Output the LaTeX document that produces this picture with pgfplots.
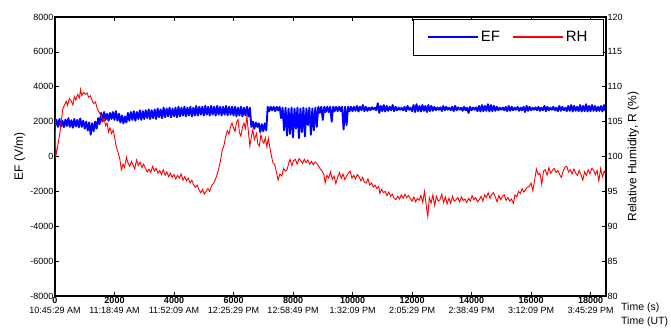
\documentclass[border=0pt]{standalone}
\usepackage{fontspec}
\setmainfont{Liberation Sans}
\usepackage{pgfplots}
\usepackage{pgfplotstable}
\pgfplotsset{compat=1.18}
\pgfplotstableread[row sep=\\]{
t ef\\
0 1750\\ 50 2100\\ 100 1700\\ 150 2150\\ 200 1720\\ 250 2050\\ 300 1680\\ 350 2120\\ 400 1750\\ 450 2200\\
500 1700\\ 550 2080\\ 600 1650\\ 650 2150\\ 700 1720\\ 750 2100\\ 800 1680\\ 850 2180\\ 900 1700\\ 950 2050\\
1000 1600\\ 1050 2000\\ 1100 1500\\ 1150 1950\\ 1200 1250\\ 1250 1900\\ 1300 1450\\ 1350 2000\\ 1400 1600\\ 1450 2200\\
1500 1850\\ 1550 2500\\ 1600 2000\\ 1650 2550\\ 1700 2100\\ 1750 2450\\ 1800 2050\\ 1850 2500\\ 1900 2150\\ 1950 2550\\
2000 2100\\ 2050 2600\\ 2100 2050\\ 2150 2450\\ 2200 1950\\ 2250 2350\\ 2300 1900\\ 2350 2300\\ 2400 1950\\ 2450 2500\\
2500 2050\\ 2550 2550\\ 2600 2100\\ 2650 2600\\ 2700 2050\\ 2750 2550\\ 2800 2150\\ 2850 2650\\ 2900 2100\\ 2950 2600\\
3000 2150\\ 3050 2650\\ 3100 2200\\ 3150 2700\\ 3200 2150\\ 3250 2650\\ 3300 2200\\ 3350 2700\\ 3400 2150\\ 3450 2750\\
3500 2250\\ 3550 2700\\ 3600 2200\\ 3650 2800\\ 3700 2250\\ 3750 2750\\ 3800 2300\\ 3850 2800\\ 3900 2250\\ 3950 2750\\
4000 2300\\ 4050 2800\\ 4100 2250\\ 4150 2850\\ 4200 2300\\ 4250 2800\\ 4300 2350\\ 4350 2850\\ 4400 2300\\ 4450 2800\\
4500 2350\\ 4550 2850\\ 4600 2300\\ 4650 2800\\ 4700 2350\\ 4750 2900\\ 4800 2350\\ 4850 2850\\ 4900 2400\\ 4950 2850\\
5000 2350\\ 5050 2900\\ 5100 2400\\ 5150 2850\\ 5200 2350\\ 5250 2900\\ 5300 2400\\ 5350 2850\\ 5400 2350\\ 5450 2900\\
5500 2400\\ 5550 2850\\ 5600 2350\\ 5650 2850\\ 5700 2400\\ 5750 2900\\ 5800 2350\\ 5850 2850\\ 5900 2400\\ 5950 2850\\
6000 2350\\ 6050 2850\\ 6100 2300\\ 6150 2800\\ 6200 2350\\ 6250 2850\\ 6300 2300\\ 6350 2800\\ 6400 2350\\ 6450 2850\\
6500 2300\\ 6550 2800\\ 6600 1700\\ 6650 2000\\ 6700 1600\\ 6750 1950\\ 6800 1700\\ 6850 1900\\ 6900 1400\\ 6950 1850\\
7000 1450\\ 7050 1900\\ 7100 1500\\ 7150 2850\\ 7200 2600\\ 7250 2850\\ 7300 2650\\ 7350 2850\\ 7400 2600\\ 7450 2850\\
7500 2650\\ 7550 2850\\ 7600 2200\\ 7650 2800\\ 7700 1500\\ 7750 2800\\ 7800 1200\\ 7850 2750\\ 7900 1300\\ 7950 2800\\
8000 1100\\ 8050 2750\\ 8100 1600\\ 8150 2800\\ 8200 1050\\ 8250 2750\\ 8300 1400\\ 8350 2800\\ 8400 1150\\ 8450 2750\\
8500 1800\\ 8550 2800\\ 8600 1250\\ 8650 2750\\ 8700 1500\\ 8750 2800\\ 8800 1700\\ 8850 2850\\ 8900 2500\\ 8950 2850\\
9000 2100\\ 9050 2850\\ 9100 2550\\ 9150 2850\\ 9200 2550\\ 9250 2850\\ 9300 2000\\ 9350 2850\\ 9400 2600\\ 9450 2850\\
9500 2600\\ 9550 2850\\ 9600 2600\\ 9650 2850\\ 9700 1550\\ 9750 2850\\ 9800 1800\\ 9850 2850\\ 9900 2600\\ 9950 2850\\
10000 2600\\ 10050 2850\\ 10100 2620\\ 10150 2900\\ 10200 2580\\ 10250 2850\\ 10300 2650\\ 10350 2950\\ 10400 2600\\ 10450 2850\\
10500 2620\\ 10550 2800\\ 10600 2650\\ 10650 2820\\ 10700 2700\\ 10750 2800\\ 10800 2650\\ 10850 3050\\ 10900 2500\\ 10950 2900\\
11000 2600\\ 11050 2950\\ 11100 2580\\ 11150 2900\\ 11200 2620\\ 11250 2850\\ 11300 2650\\ 11350 2950\\ 11400 2600\\ 11450 2850\\
11500 2650\\ 11550 2800\\ 11600 2680\\ 11650 2800\\ 11700 2650\\ 11750 2850\\ 11800 2600\\ 11850 2900\\ 11900 2680\\ 11950 2800\\
12000 2600\\ 12050 2950\\ 12100 2550\\ 12150 3000\\ 12200 2600\\ 12250 2900\\ 12300 2580\\ 12350 2950\\ 12400 2620\\ 12450 2900\\
12500 2550\\ 12550 2950\\ 12600 2600\\ 12650 2900\\ 12700 2620\\ 12750 2850\\ 12800 2650\\ 12850 2800\\ 12900 2680\\ 12950 2820\\
13000 2600\\ 13050 2900\\ 13100 2650\\ 13150 2850\\ 13200 2680\\ 13250 2800\\ 13300 2650\\ 13350 2850\\ 13400 2600\\ 13450 2900\\
13500 2650\\ 13550 2820\\ 13600 2680\\ 13650 2800\\ 13700 2620\\ 13750 2850\\ 13800 2650\\ 13850 2800\\ 13900 2500\\ 13950 2850\\
14000 2650\\ 14050 2800\\ 14100 2680\\ 14150 2820\\ 14200 2600\\ 14250 2900\\ 14300 2580\\ 14350 2950\\ 14400 2600\\ 14450 2900\\
14500 2620\\ 14550 3000\\ 14600 2580\\ 14650 2950\\ 14700 2600\\ 14750 2900\\ 14800 2620\\ 14850 2850\\ 14900 2650\\ 14950 2800\\
15000 2680\\ 15050 2800\\ 15100 2650\\ 15150 2850\\ 15200 2600\\ 15250 2900\\ 15300 2620\\ 15350 2850\\ 15400 2650\\ 15450 2800\\
15500 2680\\ 15550 2850\\ 15600 2620\\ 15650 2800\\ 15700 2650\\ 15750 2850\\ 15800 2550\\ 15850 2900\\ 15900 2620\\ 15950 2850\\
16000 2650\\ 16050 2800\\ 16100 2680\\ 16150 2820\\ 16200 2650\\ 16250 2850\\ 16300 2620\\ 16350 2800\\ 16400 2650\\ 16450 2900\\
16500 2600\\ 16550 2850\\ 16600 2650\\ 16650 2800\\ 16700 2680\\ 16750 2850\\ 16800 2650\\ 16850 2800\\ 16900 2600\\ 16950 2900\\
17000 2620\\ 17050 2850\\ 17100 2650\\ 17150 2800\\ 17200 2600\\ 17250 2900\\ 17300 2620\\ 17350 2950\\ 17400 2580\\ 17450 2900\\
17500 2620\\ 17550 2850\\ 17600 2600\\ 17650 2950\\ 17700 2580\\ 17750 2900\\ 17800 2600\\ 17850 3000\\ 17900 2580\\ 17950 2900\\
18000 2600\\ 18050 2950\\ 18100 2620\\ 18150 2900\\ 18200 2600\\ 18250 2850\\ 18300 2620\\ 18350 2900\\ 18400 2580\\ 18450 2950\\
18500 2620\\
}\eftable
\pgfplotstableread[row sep=\\]{
t rh\\
0 105.6\\ 30 100.1\\ 80 101.2\\ 150 103.0\\ 200 104.6\\ 260 106.8\\ 320 107.4\\ 380 107.9\\ 420 107.3\\ 480 108.3\\
540 108.0\\ 600 107.4\\ 650 108.6\\ 700 108.1\\ 760 108.9\\ 820 108.4\\ 860 109.6\\ 900 108.7\\ 960 109.2\\ 1020 108.9\\
1080 109.1\\ 1130 108.5\\ 1190 108.7\\ 1250 108.0\\ 1300 107.6\\ 1360 107.8\\ 1420 106.9\\ 1480 106.4\\ 1540 105.9\\ 1600 105.2\\
1650 105.5\\ 1700 104.4\\ 1750 104.8\\ 1800 103.5\\ 1850 104.1\\ 1900 103.3\\ 1960 103.8\\ 2010 102.6\\ 2060 101.4\\ 2120 100.6\\
2180 99.6\\ 2230 98.1\\ 2290 98.9\\ 2340 98.4\\ 2400 99.9\\ 2450 99.1\\ 2510 98.6\\ 2570 99.3\\ 2620 98.8\\ 2680 98.2\\
2740 99.5\\ 2800 98.7\\ 2860 99.2\\ 2920 98.4\\ 2980 98.9\\ 3040 98.3\\ 3100 97.8\\ 3160 98.2\\ 3220 97.7\\ 3280 98.6\\
3340 97.9\\ 3400 98.3\\ 3460 97.6\\ 3520 98.0\\ 3580 97.4\\ 3640 98.1\\ 3700 97.3\\ 3760 97.8\\ 3820 97.1\\ 3880 97.6\\
3940 97.0\\ 4000 97.4\\ 4060 96.8\\ 4120 97.3\\ 4180 96.9\\ 4240 97.5\\ 4300 96.6\\ 4360 97.1\\ 4420 96.5\\ 4480 96.9\\
4540 96.2\\ 4600 96.6\\ 4660 95.9\\ 4720 95.6\\ 4780 95.9\\ 4840 95.2\\ 4900 94.8\\ 4960 95.3\\ 5020 94.6\\ 5080 95.0\\
5140 95.4\\ 5200 95.0\\ 5260 95.8\\ 5320 96.1\\ 5380 96.6\\ 5440 97.3\\ 5500 98.2\\ 5560 99.4\\ 5620 100.9\\ 5680 101.6\\
5740 102.9\\ 5790 103.7\\ 5850 103.2\\ 5900 104.3\\ 5950 104.8\\ 6000 104.1\\ 6050 103.6\\ 6100 104.9\\ 6150 105.3\\ 6200 103.4\\
6250 102.9\\ 6300 104.2\\ 6350 104.8\\ 6400 104.0\\ 6450 105.8\\ 6500 103.5\\ 6550 101.5\\ 6600 102.8\\ 6650 103.9\\ 6700 102.4\\
6770 103.3\\ 6820 101.8\\ 6870 101.5\\ 6920 103.1\\ 6970 102.3\\ 7020 101.9\\ 7070 102.7\\ 7120 101.4\\ 7170 102.6\\ 7220 101.3\\
7270 100.2\\ 7330 99.0\\ 7380 98.9\\ 7440 97.8\\ 7500 96.6\\ 7560 97.5\\ 7620 97.2\\ 7680 98.3\\ 7740 97.9\\ 7800 98.1\\
7860 99.1\\ 7900 99.6\\ 7960 98.7\\ 8020 99.4\\ 8080 99.6\\ 8140 98.9\\ 8200 99.7\\ 8260 99.4\\ 8320 99.0\\ 8380 99.6\\
8440 99.1\\ 8500 99.5\\ 8560 98.9\\ 8620 99.3\\ 8680 98.8\\ 8740 99.2\\ 8800 99.0\\ 8860 98.6\\ 8920 98.2\\ 8980 97.9\\
9040 97.4\\ 9080 96.2\\ 9140 97.3\\ 9200 96.9\\ 9260 97.8\\ 9320 96.7\\ 9380 97.2\\ 9440 96.1\\ 9500 97.0\\ 9560 97.7\\
9620 96.9\\ 9680 97.5\\ 9740 96.7\\ 9800 97.2\\ 9860 97.6\\ 9920 97.9\\ 9980 96.9\\ 10040 97.3\\ 10100 96.8\\ 10160 97.4\\
10220 97.1\\ 10280 96.5\\ 10340 97.0\\ 10400 96.3\\ 10460 96.2\\ 10520 96.8\\ 10580 95.9\\ 10640 96.2\\ 10700 95.6\\ 10760 95.9\\
10820 95.4\\ 10880 95.7\\ 10920 94.7\\ 10980 95.3\\ 11040 94.8\\ 11100 95.0\\ 11160 94.4\\ 11220 94.9\\ 11280 94.3\\ 11340 94.6\\
11400 94.0\\ 11460 93.8\\ 11520 94.3\\ 11580 93.9\\ 11640 94.5\\ 11700 94.0\\ 11760 94.6\\ 11820 94.1\\ 11880 94.4\\ 11940 94.0\\
12000 93.6\\ 12060 94.2\\ 12120 93.5\\ 12180 94.0\\ 12240 93.7\\ 12300 94.4\\ 12360 93.4\\ 12420 95.0\\ 12480 92.9\\ 12530 91.4\\
12580 94.1\\ 12640 93.3\\ 12700 94.5\\ 12760 93.0\\ 12820 94.3\\ 12880 93.6\\ 12940 93.8\\ 13000 94.6\\ 13060 93.4\\ 13120 94.2\\
13180 93.2\\ 13240 94.0\\ 13300 93.3\\ 13360 94.3\\ 13420 93.6\\ 13480 93.8\\ 13540 94.1\\ 13600 93.5\\ 13660 94.2\\ 13720 93.7\\
13780 93.9\\ 13840 93.4\\ 13900 94.0\\ 13960 93.6\\ 14020 94.4\\ 14080 93.8\\ 14140 94.1\\ 14200 93.5\\ 14260 93.8\\ 14320 94.3\\
14380 93.6\\ 14440 94.5\\ 14500 94.1\\ 14560 94.8\\ 14620 94.0\\ 14680 94.6\\ 14740 94.8\\ 14800 94.2\\ 14860 93.5\\ 14920 94.4\\
14980 93.8\\ 15040 94.3\\ 15100 94.5\\ 15160 93.7\\ 15220 94.1\\ 15280 93.6\\ 15340 93.9\\ 15410 93.3\\ 15460 94.5\\ 15520 94.2\\
15580 95.0\\ 15640 94.7\\ 15700 95.4\\ 15760 94.9\\ 15820 95.3\\ 15880 95.6\\ 15940 95.7\\ 16000 96.2\\ 16060 95.1\\ 16120 96.6\\
16180 98.2\\ 16240 97.4\\ 16300 97.6\\ 16360 96.0\\ 16420 97.9\\ 16480 98.1\\ 16540 97.3\\ 16600 98.4\\ 16660 97.6\\ 16720 98.0\\
16780 98.3\\ 16840 97.7\\ 16900 98.0\\ 16960 97.4\\ 17020 97.0\\ 17080 97.9\\ 17140 98.5\\ 17200 98.6\\ 17260 97.8\\ 17320 98.1\\
17380 97.5\\ 17440 98.2\\ 17500 97.6\\ 17560 97.3\\ 17620 98.0\\ 17680 97.4\\ 17740 96.6\\ 17800 97.8\\ 17860 97.3\\ 17920 98.1\\
17980 97.5\\ 18040 98.3\\ 18100 98.1\\ 18160 97.4\\ 18220 98.0\\ 18280 96.5\\ 18340 98.3\\ 18400 97.1\\ 18460 97.9\\ 18500 97.6\\
}\rhtable
\begin{document}
\begin{tikzpicture}
\pgfplotsset{every axis/.append style={
  scale only axis, width=551pt, height=279pt,
  xmin=0, xmax=18520,
  axis line style={black, line width=1.2pt},
  tick style={black, line width=0.6pt},
  major tick length=4pt,
  /pgf/number format/assume math mode=true,
  /pgf/number format/1000 sep={},
  tick label style={font=\fontsize{9}{10.5}\selectfont},
  label style={font=\fontsize{12}{14}\selectfont},
}}
\begin{axis}[name=ax1,
  ymin=-8000, ymax=8000,
  ytick={-8000,-6000,...,8000},
  scaled y ticks=false, scaled x ticks=false,
  ytick pos=left, xtick pos=both,
  xtick={0,2000,...,18000},
  xticklabels={
    {\textbf{0}\\10:45:29 AM},
    {\textbf{2000}\\11:18:49 AM},
    {\textbf{4000}\\11:52:09 AM},
    {\textbf{6000}\\12:25:29 PM},
    {\textbf{8000}\\12:58:49 PM},
    {\textbf{10000}\\1:32:09 PM},
    {\textbf{12000}\\2:05:29 PM},
    {\textbf{14000}\\2:38:49 PM},
    {\textbf{16000}\\3:12:09 PM},
    {\textbf{18000}\\3:45:29 PM}},
  xticklabel style={align=center, inner sep=1pt},
  yticklabel style={inner sep=1.5pt},
  ylabel={EF (V/m)},
]
\addplot[blue, line width=1.9pt, line join=round] table[x=t, y=ef] {\eftable};
\end{axis}
\begin{axis}[
  ymin=80, ymax=120,
  ytick={80,85,...,120},
  axis y line*=right, axis x line=none,
  yticklabel style={inner sep=1.5pt},
  ylabel={Relative Humidity, R (\%)},
  legend columns=2,
  legend style={at={(rel axis cs:0.996,0.993)}, anchor=north east, draw=black, line width=0.5pt,
    font=\fontsize{15}{17}\selectfont, inner xsep=14pt, inner ysep=10pt,
    /tikz/every even column/.append style={column sep=10pt}},
  legend image code/.code={\draw[#1, line width=1.8pt] (0pt,0pt) -- (50pt,0pt);},
]
\addlegendimage{blue}
\addlegendentry{EF}
\addplot[red, line width=0.9pt] table[x=t, y=rh] {\rhtable};
\addlegendentry{RH}
\end{axis}
\node[anchor=base west, font=\fontsize{10.5}{12}\selectfont, inner sep=0pt] at ([xshift=15pt, yshift=-14pt]ax1.south east) {Time (s)};
\node[anchor=base west, font=\fontsize{10.5}{12}\selectfont, inner sep=0pt] at ([xshift=15pt, yshift=-28pt]ax1.south east) {Time (UT)};
\pgfresetboundingbox
\path ([shift={(-55pt,-31pt)}]ax1.south west) rectangle ([shift={(65pt,17pt)}]ax1.north east);
\end{tikzpicture}
\end{document}
